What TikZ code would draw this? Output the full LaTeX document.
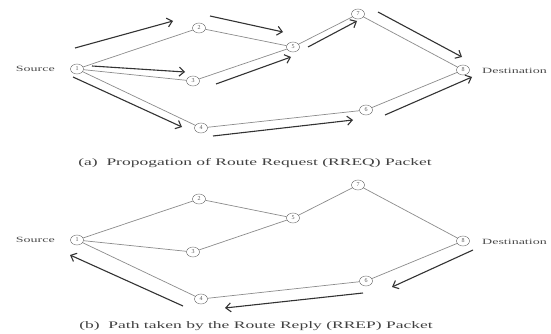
\documentclass[tikz,border=0pt]{standalone}
\usepackage{fontspec}
\setmainfont{Liberation Serif}
\newfontfamily\widefont[FakeStretch=1.75]{Liberation Serif}
\usetikzlibrary{arrows.meta,shapes.geometric,positioning}

\tikzset{
  host/.style={draw=black!60, ellipse, minimum width=13pt, minimum height=10pt,
    inner sep=0pt, font=\fontsize{6}{6}\selectfont, text=black!65},
  link/.style={draw=black!45, line width=0.7pt},
  flow/.style={draw=black!80, line width=1.1pt,
    -{Straight Barb[length=5pt,width=9pt]}},
  tag/.style={font=\widefont\fontsize{8}{8}\selectfont, text=black!70, inner sep=0pt},
  caption/.style={font=\widefont\fontsize{10}{10}\selectfont, text=black!75, inner sep=0pt},
}

\begin{document}
\begin{tikzpicture}[x=1pt, y=-1pt]
    \useasboundingbox[fill=white] (0,0) rectangle (551,334);

    % the same network in both panels
    \foreach \p/\dy in {a/0, b/171} {
      \begin{scope}[yshift=-\dy pt]
        \node[host] (\p1) at (77,69) {1};
        \node[host] (\p2) at (199,28) {2};
        \node[host] (\p3) at (193,81) {3};
        \node[host] (\p4) at (201,128) {4};
        \node[host] (\p5) at (293,47) {5};
        \node[host] (\p6) at (366,110) {6};
        \node[host] (\p7) at (358,14) {7};
        \node[host] (\p8) at (463,70) {8};

        \node[tag, anchor=east] (src\p) at (55,69) {Source};
        \node[tag, anchor=west] (dst\p) at (482,71) {Destination};

        \draw[link] (\p1) -- (\p2) -- (\p5) -- (\p7) -- (\p8);
        \draw[link] (\p1) -- (\p3) -- (\p5);
        \draw[link] (\p1) -- (\p4) -- (\p6) -- (\p8);
      \end{scope}
    }

    \node[caption] (capa) at (255,163) {(a)\ \ Propogation of Route Request (RREQ) Packet};
    \node[caption] (capb) at (256,326) {(b)\ \ Path taken by the Route Reply (RREP) Packet};

    % RREQ flooding
    \foreach \n/\sx/\sy/\tx/\ty in {q1/75/48/173/21, q2/210/16/283/32, q3/92/66/185/72,
        q4/73/77/182/127, q5/216/84/291/57, q6/308/47/357/21, q7/378/12/462/57,
        q8/213/136/353/120, q9/385/115/472/77} {
      \coordinate (\n s) at (\sx,\sy);
      \coordinate (\n t) at (\tx,\ty);
      \draw[flow] (\n s) -- (\n t);
    }

    % RREP back to the source
    \foreach \n/\sx/\sy/\tx/\ty in {r1/473/250/392/287, r2/363/293/225/308, r3/183/306/70/255} {
      \coordinate (\n s) at (\sx,\sy);
      \coordinate (\n t) at (\tx,\ty);
      \draw[flow] (\n s) -- (\n t);
    }
\end{tikzpicture}
\end{document}
